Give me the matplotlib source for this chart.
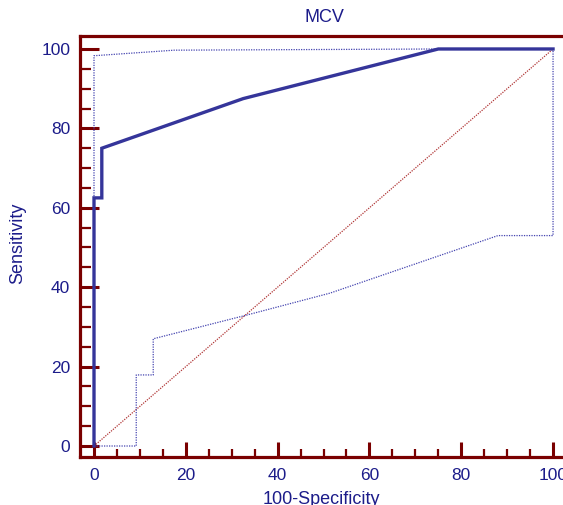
import matplotlib
matplotlib.use("Agg")
import matplotlib.pyplot as plt
from matplotlib.ticker import MultipleLocator

plt.rcParams['font.family'] = ['Liberation Sans', 'DejaVu Sans']

# ROC curve
roc_x = [0, 0, 1.7, 1.7, 32.5, 75, 100]
roc_y = [0, 62.5, 62.5, 75, 87.5, 100, 100]
# upper confidence bound
up_x = [0, 0, 17.5, 75, 100]
up_y = [0, 98.3, 99.7, 100, 100]
# lower confidence bound
lo_x = [0, 9.2, 9.2, 12.9, 12.9, 33, 51.4, 88, 100, 100]
lo_y = [0, 0, 17.9, 17.9, 27, 32.9, 38.5, 53, 53, 100]
# reference diagonal
diag_x = [0, 100]
diag_y = [0, 100]

W, H = 563, 505
fig = plt.figure(figsize=(W / 100, H / 100), dpi=100)

maroon = '#7a0000'
navy = '#1c1c8a'
curve = '#35359a'

ax_left, ax_top, ax_bottom = 80, 36, 457
ax_w = 496
ax = fig.add_axes([ax_left / W, 1 - ax_bottom / H, ax_w / W, (ax_bottom - ax_top) / H])

ax.plot(diag_x, diag_y, color='#b03535', lw=0.9, ls=(0, (1, 1)), zorder=2)
ax.plot(up_x, up_y, color='#4545b0', lw=0.9, ls=(0, (1, 1)), zorder=3)
ax.plot(lo_x, lo_y, color='#4545b0', lw=0.9, ls=(0, (1, 1)), zorder=3)
ax.plot(roc_x, roc_y, color=curve, lw=2.4, zorder=4, solid_joinstyle='miter')

ax.set_xlim(-3.05, 105)
ax.set_ylim(-2.77, 103.27)

for s in ['left', 'top', 'bottom']:
    ax.spines[s].set_color(maroon)
    ax.spines[s].set_linewidth(2.3)
ax.spines['right'].set_visible(False)

ax.xaxis.set_major_locator(MultipleLocator(20))
ax.xaxis.set_minor_locator(MultipleLocator(5))
ax.yaxis.set_major_locator(MultipleLocator(20))
ax.yaxis.set_minor_locator(MultipleLocator(5))
ax.tick_params(which='major', direction='in', color=maroon, width=2.2, labelcolor=navy, labelsize=12.5)
ax.tick_params(axis='y', which='major', length=14, pad=7)
ax.tick_params(axis='x', which='major', length=11, pad=8)
ax.tick_params(axis='y', which='minor', direction='in', color=maroon, width=1.6, length=8)
ax.tick_params(axis='x', which='minor', direction='in', color=maroon, width=1.6, length=6)
ax.tick_params(top=False, right=False, which='both')
ax.set_xticks([0, 20, 40, 60, 80, 100])
ax.set_yticks([0, 20, 40, 60, 80, 100])

fig.text(324.5 / W, 1 - 18 / H, 'MCV', color=navy, fontsize=13, ha='center', va='center')
fig.text(321 / W, 1 - 500 / H, '100-Specificity', color=navy, fontsize=13, ha='center', va='center')
fig.text(18 / W, 1 - 243 / H, 'Sensitivity', color=navy, fontsize=13, ha='center', va='center', rotation=90)

fig.savefig('out.png', dpi=100)
